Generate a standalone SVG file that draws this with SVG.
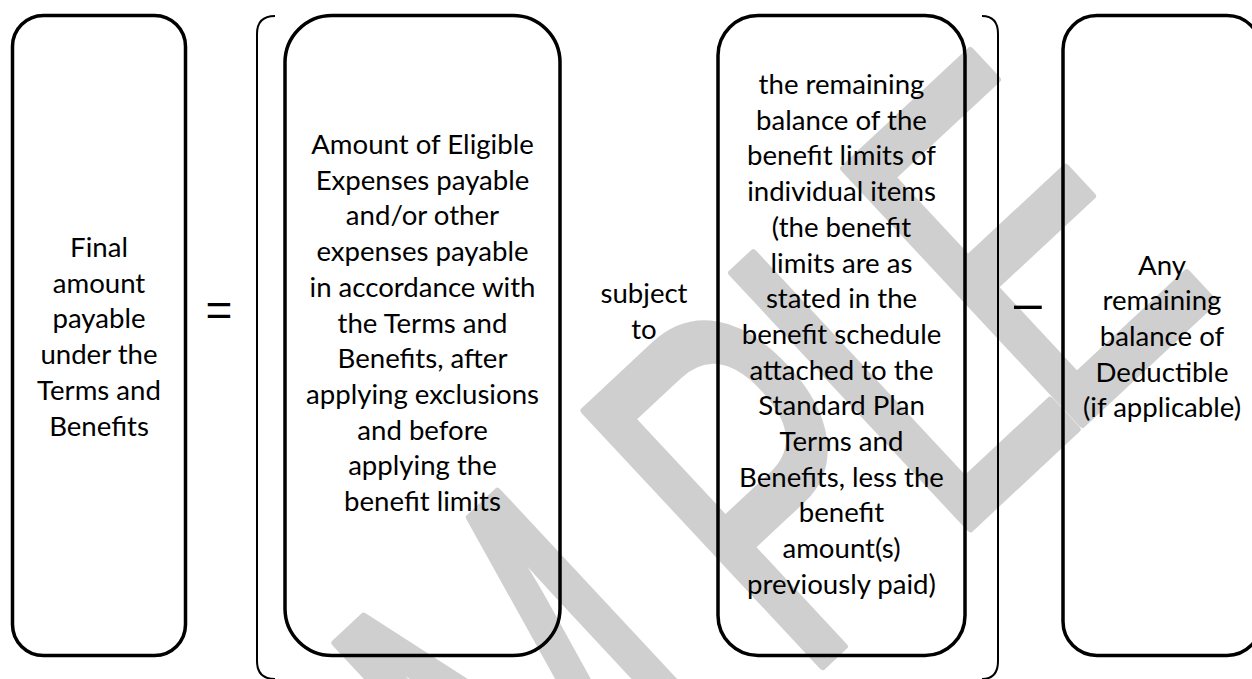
<svg xmlns="http://www.w3.org/2000/svg" width="1252" height="679" viewBox="0 0 1252 679">
<style>
.box{fill:none;stroke:#000;stroke-width:3.5}
.br{fill:none;stroke:#000;stroke-width:2}
.t{font-family:"Lato","Carlito","Liberation Sans",sans-serif;font-size:27.6px;fill:#000;text-anchor:middle}
.op{font-family:"Liberation Sans",Arial,sans-serif;fill:#000;text-anchor:middle}
</style>
<rect width="1252" height="679" fill="#fff"/>
<g id="watermark" transform="rotate(-43)" fill="#cfcfcf" stroke="#cfcfcf" stroke-width="8" stroke-linejoin="round">
<text transform="scale(0.66,1)" font-family="Liberation Sans, Arial, sans-serif" font-size="507" x="-1012 -674 -336 180 486 718" y="1048">SAMPLE</text>
</g>
<g id="connectors">
<path class="br" d="M275,16 Q257,16 257,34 V661 Q257,679 275,679"/>
<path class="br" d="M982,16 Q998,16 998,34 V661 Q998,679 982,679"/>
<text class="op" x="219" y="326" font-size="46">=</text>
<text class="op" x="1028" y="320" font-size="50">–</text>
</g>
<g id="node-final">
<rect class="box" x="12.5" y="15.5" width="173" height="640" rx="31" ry="31"/>
<text class="t"><tspan x="99" y="257">Final</tspan><tspan x="99" y="292.7">amount</tspan><tspan x="99" y="328.4">payable</tspan><tspan x="99" y="364.1">under the</tspan><tspan x="99" y="399.8">Terms and</tspan><tspan x="99" y="435.5">Benefits</tspan></text>
</g>
<g id="node-eligible">
<rect class="box" x="285" y="15.5" width="275" height="640" rx="47" ry="47"/>
<text class="t"><tspan x="422.5" y="154">Amount of Eligible</tspan><tspan x="422.5" y="189.7">Expenses payable</tspan><tspan x="422.5" y="225.4">and/or other</tspan><tspan x="422.5" y="261.1">expenses payable</tspan><tspan x="422.5" y="296.8">in accordance with</tspan><tspan x="422.5" y="332.5">the Terms and</tspan><tspan x="422.5" y="368.2">Benefits, after</tspan><tspan x="422.5" y="403.9">applying exclusions</tspan><tspan x="422.5" y="439.6">and before</tspan><tspan x="422.5" y="475.3">applying the</tspan><tspan x="422.5" y="511">benefit limits</tspan></text>
</g>
<g id="node-subject">
<text class="t"><tspan x="644" y="303">subject</tspan><tspan x="644" y="338.7">to</tspan></text>
</g>
<g id="node-balance">
<rect class="box" x="718" y="15.5" width="247" height="640" rx="40" ry="40"/>
<text class="t"><tspan x="841.5" y="94">the remaining</tspan><tspan x="841.5" y="129.7">balance of the</tspan><tspan x="841.5" y="165.4">benefit limits of</tspan><tspan x="841.5" y="201.1">individual items</tspan><tspan x="841.5" y="236.8">(the benefit</tspan><tspan x="841.5" y="272.5">limits are as</tspan><tspan x="841.5" y="308.2">stated in the</tspan><tspan x="841.5" y="343.9">benefit schedule</tspan><tspan x="841.5" y="379.6">attached to the</tspan><tspan x="841.5" y="415.3">Standard Plan</tspan><tspan x="841.5" y="451">Terms and</tspan><tspan x="841.5" y="486.7">Benefits, less the</tspan><tspan x="841.5" y="522.4">benefit</tspan><tspan x="841.5" y="558.1">amount(s)</tspan><tspan x="841.5" y="593.8">previously paid)</tspan></text>
</g>
<g id="node-deductible">
<rect class="box" x="1063" y="15.5" width="198" height="640" rx="34" ry="34"/>
<text class="t"><tspan x="1162" y="274.6">Any</tspan><tspan x="1162" y="310.3">remaining</tspan><tspan x="1162" y="346">balance of</tspan><tspan x="1162" y="381.7">Deductible</tspan><tspan x="1162" y="417.4">(if applicable)</tspan></text>
</g>
</svg>
